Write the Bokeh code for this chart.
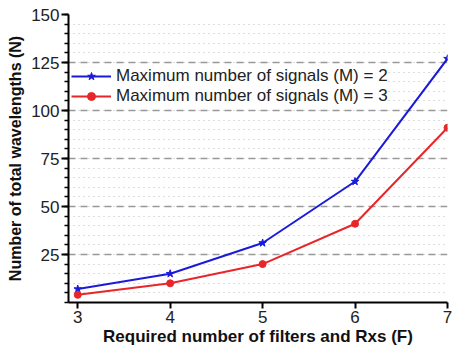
from bokeh.plotting import figure
from bokeh.models import Range1d, FixedTicker, Legend, LegendItem
from bokeh.embed import file_html
from bokeh.resources import INLINE

filters = [3, 4, 5, 6, 7]
m2 = [7, 15, 31, 63, 127]
m3 = [4, 10, 20, 41, 91]
labels = ["Maximum number of signals (M) = 2", "Maximum number of signals (M) = 3"]
yticks = [25, 50, 75, 100, 125, 150]
xticks = [3, 4, 5, 6, 7]

p = figure(width=453, height=349, output_backend="svg", toolbar_location=None,
           x_range=Range1d(2.9, 7.0), y_range=Range1d(0, 150),
           min_border_left=68, min_border_right=6, min_border_top=14, min_border_bottom=47)
p.outline_line_color = None

font = "Liberation Sans"
for ax in (p.xaxis[0], p.yaxis[0]):
    ax.axis_line_width = 2
    ax.axis_line_color = "black"
    ax.major_tick_line_color = "black"
    ax.minor_tick_line_color = "black"
    ax.major_tick_line_width = 2
    ax.minor_tick_line_width = 1.5
    ax.major_label_text_font = font
    ax.major_label_text_font_size = "17px"
    ax.major_label_text_color = "#222222"
    ax.major_label_standoff = 2
    ax.axis_label_text_font = font
    ax.axis_label_text_font_style = "bold"
    ax.axis_label_text_color = "#111111"

p.xaxis.ticker = FixedTicker(ticks=xticks)
p.xaxis.minor_tick_line_color = None
p.xaxis.major_tick_out = 6
p.xaxis.major_tick_in = 0
p.xaxis.axis_label = "Required number of filters and Rxs (F)"
p.xaxis.axis_label_text_font_size = "17px"
p.xaxis.axis_label_standoff = 1

p.yaxis.ticker = FixedTicker(ticks=yticks, minor_ticks=list(range(0, 151, 5)))
p.yaxis.major_tick_out = 7
p.yaxis.major_tick_in = 0
p.yaxis.minor_tick_out = 4
p.yaxis.minor_tick_in = 0
p.yaxis.axis_label = "Number of total wavelengths (N)"
p.yaxis.axis_label_text_font_size = "16px"
p.yaxis.axis_label_standoff = 4

p.xgrid.grid_line_color = None
p.ygrid.grid_line_color = "#999999"
p.ygrid.grid_line_dash = "7 5"
p.ygrid.grid_line_width = 1.5
p.ygrid.minor_grid_line_color = "#bbbbbb"
p.ygrid.minor_grid_line_dash = "1 4"
p.ygrid.minor_grid_line_width = 1.2

r1 = p.line(filters, m2, line_color="#1a1adb", line_width=2)
s1 = p.scatter(filters, m2, marker="star", size=8, fill_color="#1a1adb", line_color="#1a1adb")
r2 = p.line(filters, m3, line_color="#e8262a", line_width=2)
s2 = p.scatter(filters, m3, marker="circle", size=7, fill_color="#e8262a", line_color="#e8262a")

legend = Legend(items=[LegendItem(label=labels[0], renderers=[r1, s1]),
                       LegendItem(label=labels[1], renderers=[r2, s2])],
                location=(3, 196))
legend.border_line_color = None
legend.background_fill_alpha = 1.0
legend.label_text_font = font
legend.label_text_font_size = "17px"
legend.label_text_color = "#222222"
legend.glyph_width = 40
legend.spacing = 0
legend.padding = 2
legend.margin = 0
legend.label_standoff = 5
legend.label_height = 20
legend.glyph_height = 20
p.add_layout(legend)

open("out.html", "w").write(file_html(p, INLINE))
